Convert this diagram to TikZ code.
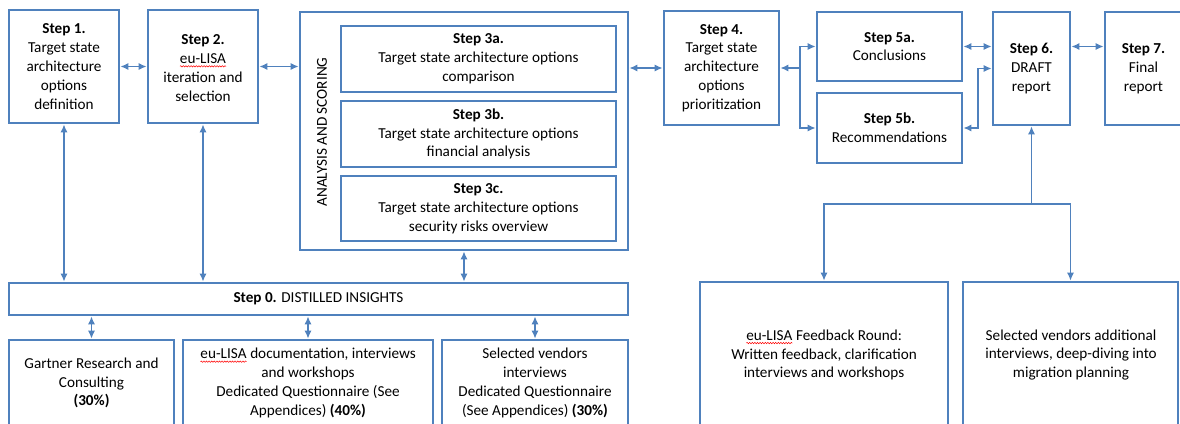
\documentclass[tikz,border=0pt]{standalone}
\usepackage{fontspec}
\setmainfont{Carlito}
\usetikzlibrary{arrows.meta,decorations.pathmorphing}
\definecolor{ob}{RGB}{79,129,189}
\newcommand{\spell}[1]{\tikz[baseline=(sp.base)]{\node[draw=none,fill=none,minimum width=0pt,minimum height=0pt,inner sep=0pt,outer sep=0pt,anchor=base] (sp) {#1};\draw[draw=red,line width=0.5pt,decorate,decoration={snake,amplitude=0.7pt,segment length=2.6pt}] ([yshift=-2.8pt]sp.base west) -- ([yshift=-2.8pt]sp.base east);}}
\tikzset{
  >={Latex[length=8pt,width=7pt]},
  box/.style={draw=ob, line width=2.6pt, fill=white, align=center, inner sep=2pt, font=\fontsize{15.2}{18.8}\selectfont},
  con/.style={draw=ob, line width=1.5pt},
  lbl/.style={align=center, inner sep=0pt, font=\fontsize{15.2}{18.8}\selectfont},
}
\begin{document}
\begin{tikzpicture}[x=1pt,y=-1pt]
\useasboundingbox (0,0) rectangle (1180,423);
\clip (0,0) rectangle (1180,423);
% top row
\node[box, minimum width=110, minimum height=113] (s1) at (64,66.5) {\textbf{Step 1.}\\Target state\\architecture\\options\\definition};
\node[box, minimum width=110, minimum height=113] (s2) at (203,66.5) {};
\node[lbl] (s2t) at (203,68) {\textbf{Step 2.}\\\spell{eu-LISA}\\iteration and\\selection};
\node[box, minimum width=328, minimum height=238] (an) at (464,131) {};
\node[lbl, rotate=90] (anl) at (322,132) {ANALYSIS AND SCORING};
\node[box, minimum width=275, minimum height=66] (s3a) at (478.5,59) {\textbf{Step 3a.}\\Target state architecture options\\comparison};
\node[box, minimum width=275, minimum height=66] (s3b) at (478.5,134) {\textbf{Step 3b.}\\Target state architecture options\\financial analysis};
\node[box, minimum width=275, minimum height=65] (s3c) at (478.5,208.5) {\textbf{Step 3c.}\\Target state architecture options\\security risks overview};
\node[box, minimum width=115, minimum height=114] (s4) at (721.5,68) {\textbf{Step 4.}\\Target state\\architecture\\options\\prioritization};
\node[box, minimum width=145, minimum height=69] (s5a) at (889.5,46.5) {\textbf{Step 5a.}\\Conclusions};
\node[box, minimum width=145, minimum height=70] (s5b) at (889.5,128) {\textbf{Step 5b.}\\Recommendations};
\node[box, minimum width=77, minimum height=113] (s6) at (1031.5,68.5) {\textbf{Step 6.}\\DRAFT\\report};
\node[box, minimum width=77, minimum height=113] (s7) at (1143.5,68.5) {\textbf{Step 7.}\\Final\\report};
% step 0 and sources
\node[box, minimum width=619, minimum height=32] (s0) at (318.5,299) {\textbf{Step 0.} DISTILLED INSIGHTS};
\node[box, minimum width=165, minimum height=90] (g) at (91.5,385) {};
\node[lbl] (gt) at (91.5,383) {Gartner Research and\\Consulting\\\textbf{(30\%)}};
\node[box, minimum width=250, minimum height=90] (d) at (308,385) {};
\node[lbl] (dt) at (308,383) {\spell{eu-LISA} documentation, interviews\\and workshops\\Dedicated Questionnaire (See\\Appendices) \textbf{(40\%)}};
\node[box, minimum width=186, minimum height=90] (v) at (535,385) {};
\node[lbl] (vt) at (535,383) {Selected vendors\\interviews\\Dedicated Questionnaire\\(See Appendices) \textbf{(30\%)}};
\node[box, minimum width=248, minimum height=148] (fb) at (824,356) {};
\node[lbl] (fbt) at (824,355) {\spell{eu-LISA} Feedback Round:\\Written feedback, clarification\\interviews and workshops};
\node[box, minimum width=215, minimum height=148] (va) at (1070.5,356) {};
\node[lbl] (vat) at (1071,355) {Selected vendors additional\\interviews, deep-diving into\\migration planning};
% connectors
\draw[con,<->] (s1.east) -- (s2.west);
\draw[con,<->] (s2.east) -- (an.west |- s2.east);
\draw[con,<->] (an.east |- s4.west) -- (s4.west);
\coordinate (j1) at (800,68);
\draw[con,<->] (s4.east) -- (j1) |- (s5a.west);
\draw[con,->] (j1) |- (s5b.west);
\draw[con,<->] (s5a.east) -- (s6.west |- s5a.east);
\coordinate (j2) at (978,128);
\draw[con,<->] (s5b.east) -- (j2) |- (s6.west);
\draw[con,<->] (s6.east |- s5a.east) -- (s7.west |- s5a.east);
\coordinate (j3) at (1031.5,204);
\draw[con,<-] (s6.south) -- (j3);
\draw[con,->] (j3) -| (fb.north);
\draw[con,->] (j3) -| (va.north);
\draw[con,<->] (s1.south) -- (s1.south |- s0.north);
\draw[con,<->] (s2.south) -- (s2.south |- s0.north);
\draw[con,<->] (an.south) -- (an.south |- s0.north);
\draw[con,<->] (g.north |- s0.south) -- (g.north);
\draw[con,<->] (d.north |- s0.south) -- (d.north);
\draw[con,<->] (v.north |- s0.south) -- (v.north);
\end{tikzpicture}
\end{document}
